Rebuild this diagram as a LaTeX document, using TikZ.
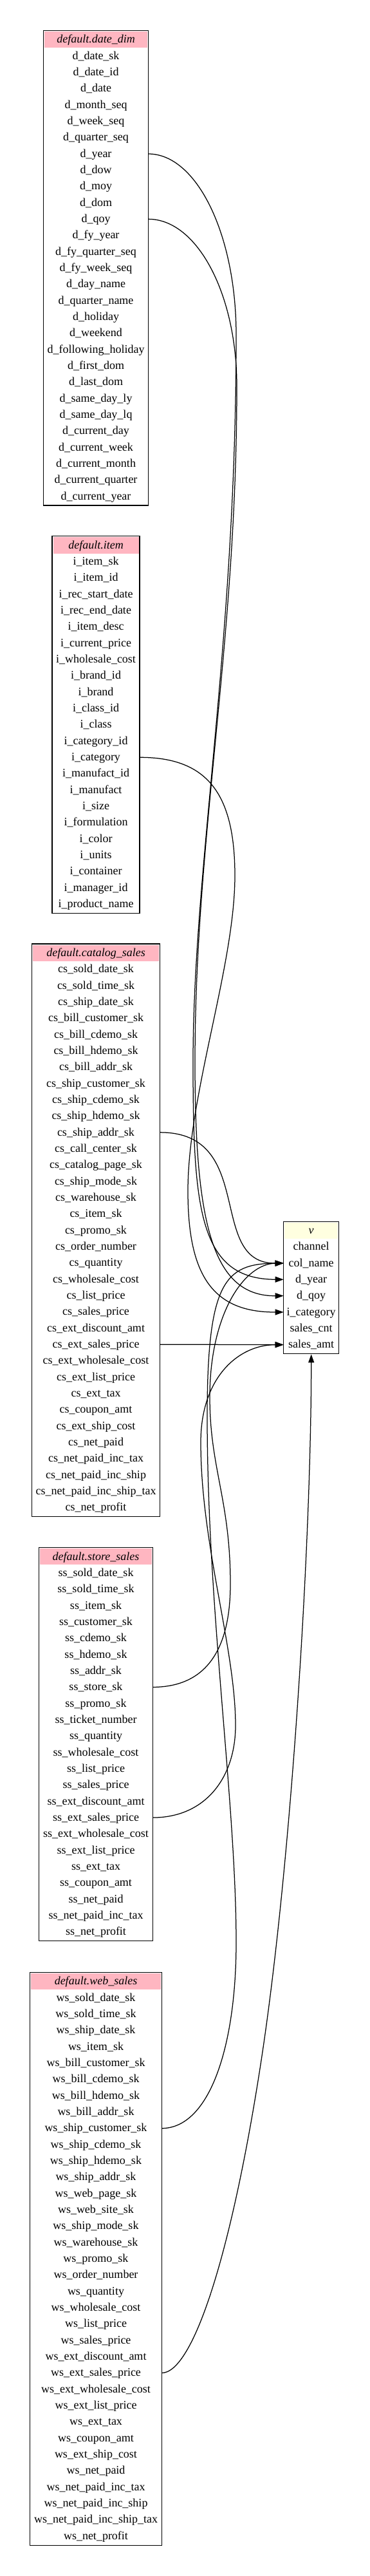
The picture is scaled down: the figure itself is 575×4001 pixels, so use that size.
\documentclass[tikz,border=0pt]{standalone}
\usepackage{fontspec}
\setmainfont{Liberation Serif}
\usetikzlibrary{arrows.meta,fit}
\definecolor{pinkhead}{HTML}{FFB6C1}
\definecolor{yellowhead}{HTML}{FFFFE0}

\begin{document}
\begin{tikzpicture}[x=1pt, y=-1pt,
    field/.style={minimum height=25.33pt, inner sep=0pt, outer sep=1.5pt,
      text height=14pt, text depth=3.5pt, font=\fontsize{18}{20}\selectfont},
    title/.style={field, font=\fontsize{18}{20}\selectfont\itshape},
    frame/.style={draw, line width=1.25pt, inner sep=0pt},
    edge/.style={line width=1.25pt, -{Triangle[length=13pt, width=9pt]}}]
    \useasboundingbox (0,0) rectangle (575,4001);

    % 表 default.date_dim
    \node[title, fill=pinkhead, minimum width=160pt] (dd-0) at (149,61.7) {default.date\_dim};
    \foreach \f [count=\i] in {d\_date\_sk, d\_date\_id, d\_date, d\_month\_seq, d\_week\_seq,
        d\_quarter\_seq, d\_year, d\_dow, d\_moy, d\_dom, d\_qoy, d\_fy\_year, d\_fy\_quarter\_seq,
        d\_fy\_week\_seq, d\_day\_name, d\_quarter\_name, d\_holiday, d\_weekend,
        d\_following\_holiday, d\_first\_dom, d\_last\_dom, d\_same\_day\_ly, d\_same\_day\_lq,
        d\_current\_day, d\_current\_week, d\_current\_month, d\_current\_quarter, d\_current\_year}
        \node[field, minimum width=160pt] (dd-\i) at (149,61.7+\i*25.33) {\f};
    \node[frame, fit=(dd-0)(dd-28)] (dd) {};

    % 表 default.item
    \node[title, fill=pinkhead, minimum width=133pt] (it-0) at (149,847) {default.item};
    \foreach \f [count=\i] in {i\_item\_sk, i\_item\_id, i\_rec\_start\_date, i\_rec\_end\_date,
        i\_item\_desc, i\_current\_price, i\_wholesale\_cost, i\_brand\_id, i\_brand, i\_class\_id,
        i\_class, i\_category\_id, i\_category, i\_manufact\_id, i\_manufact, i\_size,
        i\_formulation, i\_color, i\_units, i\_container, i\_manager\_id, i\_product\_name}
        \node[field, minimum width=133pt] (it-\i) at (149,847+\i*25.33) {\f};
    \node[frame, fit=(it-0)(it-22)] (it) {};

    % 表 default.catalog_sales
    \node[title, fill=pinkhead, minimum width=196.5pt] (cs-0) at (149,1480.2) {default.catalog\_sales};
    \foreach \f [count=\i] in {cs\_sold\_date\_sk, cs\_sold\_time\_sk, cs\_ship\_date\_sk,
        cs\_bill\_customer\_sk, cs\_bill\_cdemo\_sk, cs\_bill\_hdemo\_sk, cs\_bill\_addr\_sk,
        cs\_ship\_customer\_sk, cs\_ship\_cdemo\_sk, cs\_ship\_hdemo\_sk, cs\_ship\_addr\_sk,
        cs\_call\_center\_sk, cs\_catalog\_page\_sk, cs\_ship\_mode\_sk, cs\_warehouse\_sk,
        cs\_item\_sk, cs\_promo\_sk, cs\_order\_number, cs\_quantity, cs\_wholesale\_cost,
        cs\_list\_price, cs\_sales\_price, cs\_ext\_discount\_amt, cs\_ext\_sales\_price,
        cs\_ext\_wholesale\_cost, cs\_ext\_list\_price, cs\_ext\_tax, cs\_coupon\_amt,
        cs\_ext\_ship\_cost, cs\_net\_paid, cs\_net\_paid\_inc\_tax, cs\_net\_paid\_inc\_ship,
        cs\_net\_paid\_inc\_ship\_tax, cs\_net\_profit}
        \node[field, minimum width=196.5pt] (cs-\i) at (149,1480.2+\i*25.33) {\f};
    \node[frame, fit=(cs-0)(cs-34)] (cs) {};

    % 表 default.store_sales
    \node[title, fill=pinkhead, minimum width=173.5pt] (ss-0) at (149,2417.8) {default.store\_sales};
    \foreach \f [count=\i] in {ss\_sold\_date\_sk, ss\_sold\_time\_sk, ss\_item\_sk,
        ss\_customer\_sk, ss\_cdemo\_sk, ss\_hdemo\_sk, ss\_addr\_sk, ss\_store\_sk, ss\_promo\_sk,
        ss\_ticket\_number, ss\_quantity, ss\_wholesale\_cost, ss\_list\_price, ss\_sales\_price,
        ss\_ext\_discount\_amt, ss\_ext\_sales\_price, ss\_ext\_wholesale\_cost,
        ss\_ext\_list\_price, ss\_ext\_tax, ss\_coupon\_amt, ss\_net\_paid, ss\_net\_paid\_inc\_tax,
        ss\_net\_profit}
        \node[field, minimum width=173.5pt] (ss-\i) at (149,2417.8+\i*25.33) {\f};
    \node[frame, fit=(ss-0)(ss-23)] (ss) {};

    % 表 default.web_sales
    \node[title, fill=pinkhead, minimum width=201.5pt] (ws-0) at (149,3077.7) {default.web\_sales};
    \foreach \f [count=\i] in {ws\_sold\_date\_sk, ws\_sold\_time\_sk, ws\_ship\_date\_sk,
        ws\_item\_sk, ws\_bill\_customer\_sk, ws\_bill\_cdemo\_sk, ws\_bill\_hdemo\_sk,
        ws\_bill\_addr\_sk, ws\_ship\_customer\_sk, ws\_ship\_cdemo\_sk, ws\_ship\_hdemo\_sk,
        ws\_ship\_addr\_sk, ws\_web\_page\_sk, ws\_web\_site\_sk, ws\_ship\_mode\_sk,
        ws\_warehouse\_sk, ws\_promo\_sk, ws\_order\_number, ws\_quantity, ws\_wholesale\_cost,
        ws\_list\_price, ws\_sales\_price, ws\_ext\_discount\_amt, ws\_ext\_sales\_price,
        ws\_ext\_wholesale\_cost, ws\_ext\_list\_price, ws\_ext\_tax, ws\_coupon\_amt,
        ws\_ext\_ship\_cost, ws\_net\_paid, ws\_net\_paid\_inc\_tax, ws\_net\_paid\_inc\_ship,
        ws\_net\_paid\_inc\_ship\_tax, ws\_net\_profit}
        \node[field, minimum width=201.5pt] (ws-\i) at (149,3077.7+\i*25.33) {\f};
    \node[frame, fit=(ws-0)(ws-34)] (ws) {};

    % 视图 v
    \node[title, fill=yellowhead, minimum width=83pt] (v-0) at (483.7,1911.3) {v};
    \foreach \f [count=\i] in {channel, col\_name, d\_year, d\_qoy, i\_category, sales\_cnt, sales\_amt}
        \node[field, minimum width=83pt] (v-\i) at (483.7,1911.3+\i*25.33) {\f};
    \node[frame, fit=(v-0)(v-7)] (v) {};

    % 连线
    \draw[edge] (dd-7.east) .. controls (306,239) and (367,365) .. (367,520)
        .. controls (367,1000) and (300,1350) .. (300,1650)
        .. controls (300,1880) and (310,1986.7) .. (v-3.west);
    \draw[edge] (dd-11.east) .. controls (306,340.3) and (368,456) .. (368,600)
        .. controls (368,1000) and (303,1300) .. (303,1650)
        .. controls (303,1900) and (330,2013.3) .. (v-4.west);
    \draw[edge] (it-13.east) .. controls (320,1176.3) and (365,1230) .. (365,1360)
        .. controls (365,1500) and (292,1700) .. (292,1850)
        .. controls (292,1980) and (330,2038.3) .. (v-5.west);
    \draw[edge] (cs-11.east) .. controls (400,1758.8) and (320,1962.7) .. (v-2.west);
    \draw[edge] (cs-24.east) -- (v-7.west);
    \draw[edge] (ss-8.east) .. controls (335,2620.3) and (358,2540) .. (358,2460)
        .. controls (358,2330) and (326,2280) .. (326,2170)
        .. controls (326,2040) and (380,1962.7) .. (v-2.west);
    \draw[edge] (ss-16.east) .. controls (320,2823) and (366,2760) .. (366,2680)
        .. controls (366,2560) and (312,2400) .. (312,2240)
        .. controls (312,2140) and (370,2088.6) .. (v-7.west);
    \draw[edge] (ws-9.east) .. controls (325,3305.7) and (367,3180) .. (367,3017)
        .. controls (367,2800) and (322,2500) .. (322,2200)
        .. controls (322,1990) and (350,1962.7) .. (v-2.west);
    \draw[edge] (ws-24.east) .. controls (300,3685.6) and (360,3500) .. (406,3200)
        .. controls (452,2900) and (483.7,2400) .. (v.south);
\end{tikzpicture}
\end{document}
